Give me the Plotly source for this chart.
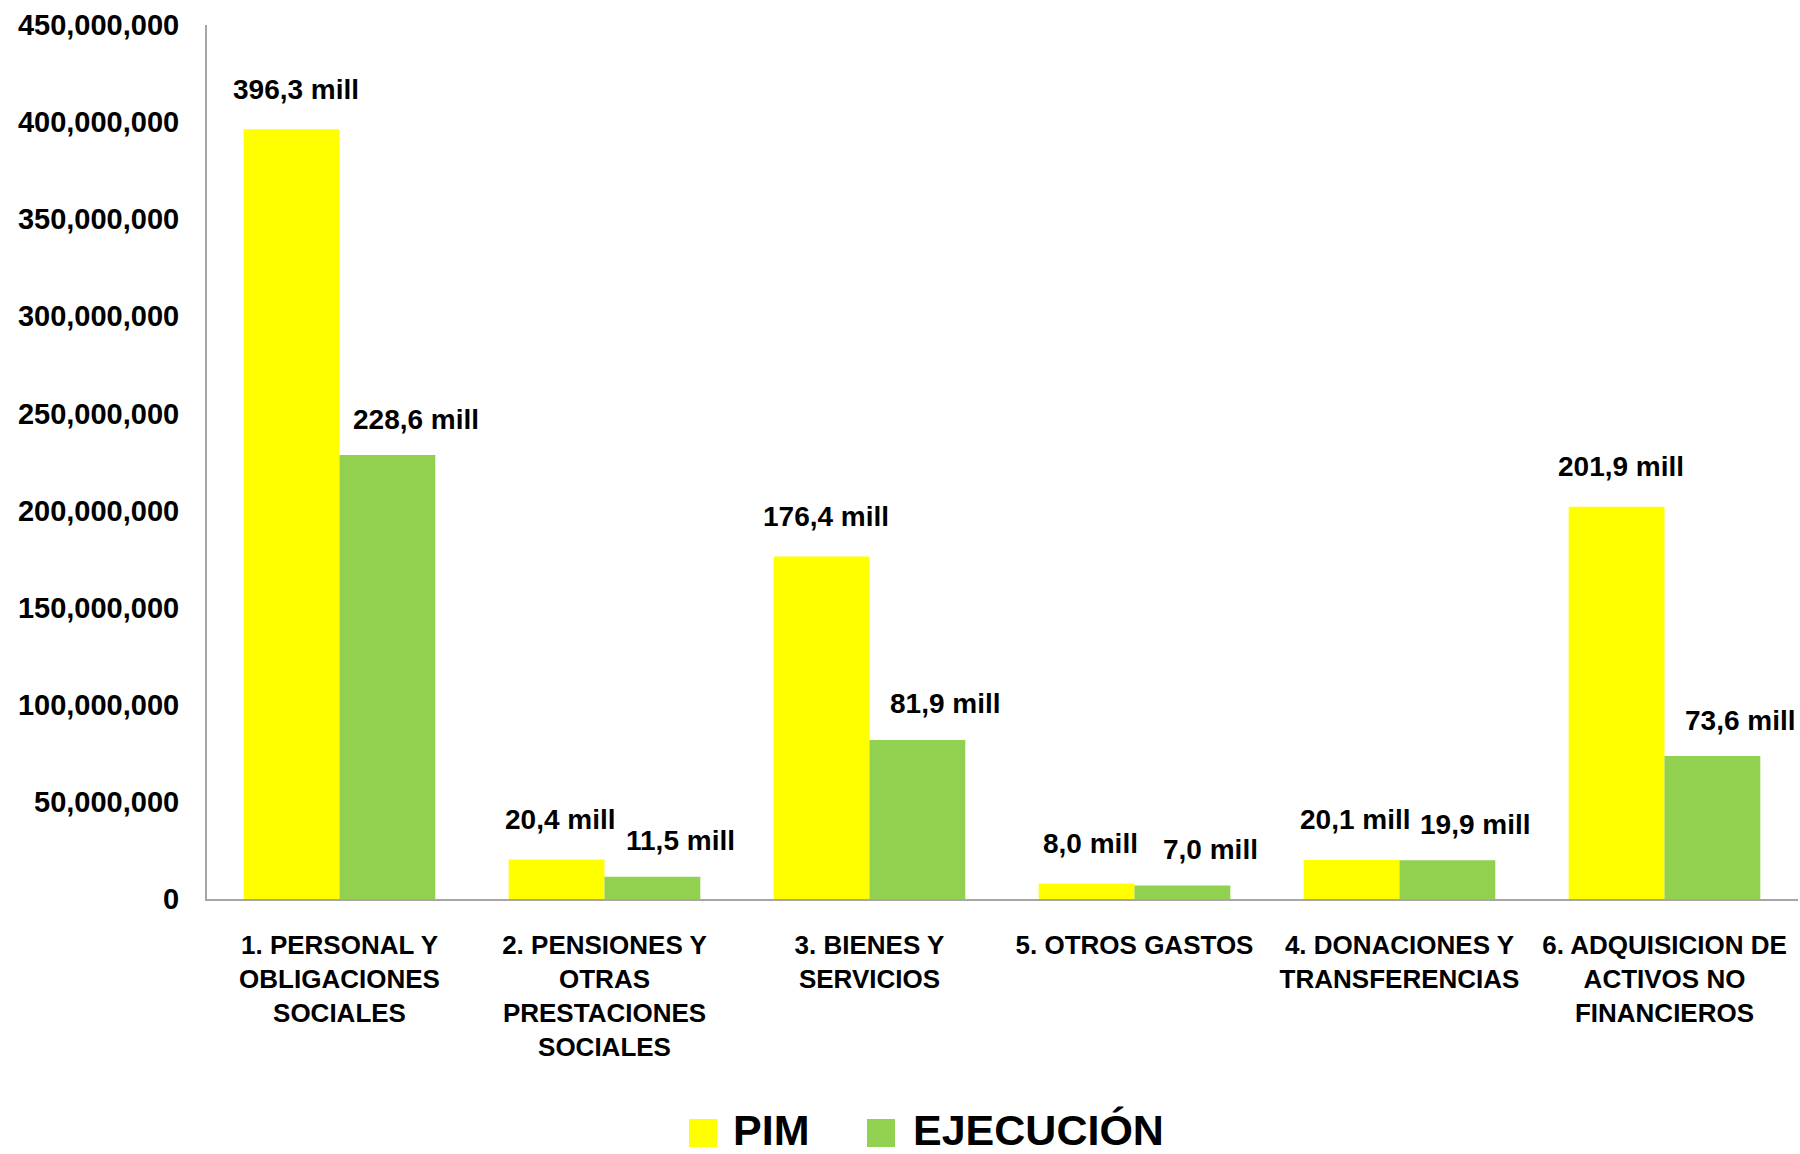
import plotly.graph_objects as go

categories = [
    "1. PERSONAL Y<br>OBLIGACIONES<br>SOCIALES",
    "2. PENSIONES Y<br>OTRAS<br>PRESTACIONES<br>SOCIALES",
    "3. BIENES Y<br>SERVICIOS",
    "5. OTROS GASTOS",
    "4. DONACIONES Y<br>TRANSFERENCIAS",
    "6. ADQUISICION DE<br>ACTIVOS NO<br>FINANCIEROS",
]
pim_mill = [396.3, 20.4, 176.4, 8.0, 20.1, 201.9]
ejec_mill = [228.6, 11.5, 81.9, 7.0, 19.9, 73.6]
series_names = ["PIM", "EJECUCIÓN"]
series_colors = ["#FFFF00", "#92D050"]
y_ticks = [0, 50e6, 100e6, 150e6, 200e6, 250e6, 300e6, 350e6, 400e6, 450e6]

pim = [v * 1e6 for v in pim_mill]
ejec = [v * 1e6 for v in ejec_mill]

FONT = "Liberation Sans, Arial, sans-serif"

fig = go.Figure()
fig.add_trace(go.Bar(x=categories, y=pim, name=series_names[0], showlegend=False,
                     marker=dict(color=series_colors[0], line=dict(width=0))))
fig.add_trace(go.Bar(x=categories, y=ejec, name=series_names[1], showlegend=False,
                     marker=dict(color=series_colors[1], line=dict(width=0))))


def fmt(v):
    return f"<b>{v:.1f}".replace(".", ",") + " mill</b>"


for cat, v in zip(categories, pim_mill):
    fig.add_annotation(x=cat, y=v * 1e6, text=fmt(v), showarrow=False,
                       xshift=-44, yshift=40, yanchor="middle", xanchor="center",
                       font=dict(family=FONT, size=28, color="#000000"))
for cat, v in zip(categories, ejec_mill):
    fig.add_annotation(x=cat, y=v * 1e6, text=fmt(v), showarrow=False,
                       xshift=76, yshift=36, yanchor="middle", xanchor="center",
                       font=dict(family=FONT, size=28, color="#000000"))

# Legend (drawn as swatches + labels below the plot)
PLOT_L, PLOT_R, PLOT_T, PLOT_B = 207, 1798, 25, 899
plot_w = PLOT_R - PLOT_L
plot_h = PLOT_B - PLOT_T


def px_x(p):
    return (p - PLOT_L) / plot_w


def px_y(p):
    return (PLOT_B - p) / plot_h


legend_items = [(689, 731), (867, 911)]
for (sx, tx), name, col in zip(legend_items, series_names, series_colors):
    fig.add_shape(type="rect", xref="paper", yref="paper",
                  x0=px_x(sx), x1=px_x(sx + 28), y0=px_y(1147), y1=px_y(1119),
                  fillcolor=col, line=dict(width=0))
    fig.add_annotation(xref="paper", yref="paper", x=px_x(tx), y=px_y(1130),
                       xanchor="left", yanchor="middle", showarrow=False,
                       text=f"<b>{name}</b>",
                       font=dict(family=FONT, size=43, color="#000000"))

fig.update_layout(
    width=1800, height=1154,
    margin=dict(l=PLOT_L, r=1800 - PLOT_R, t=PLOT_T, b=1154 - PLOT_B, autoexpand=False),
    paper_bgcolor="white", plot_bgcolor="white",
    barmode="group", bargap=0.277, bargroupgap=0,
    showlegend=False,
)
fig.update_xaxes(
    type="category", showgrid=False, zeroline=False, automargin=False,
    showline=True, linecolor="#A6A6A6", linewidth=2,
    ticks="", ticklabelstandoff=22, tickangle=0,
    tickvals=categories,
    ticktext=[f"<b>{c.replace('<br>', '</b><br><b>')}</b>" for c in categories],
    tickfont=dict(family=FONT, size=26, color="#000000"),
)
fig.update_yaxes(
    range=[0, 450e6], tickvals=y_ticks, automargin=False,
    ticktext=[f"<b>{int(t):,}</b>" for t in y_ticks],
    showgrid=False, zeroline=False,
    showline=True, linecolor="#A6A6A6", linewidth=2,
    ticks="", ticklabelstandoff=20,
    tickfont=dict(family=FONT, size=29, color="#000000"),
)

fig.write_html("out.html",
               config={"displayModeBar": False},
               post_script=["document.body.style.margin='0';document.body.style.overflow='hidden';"])
